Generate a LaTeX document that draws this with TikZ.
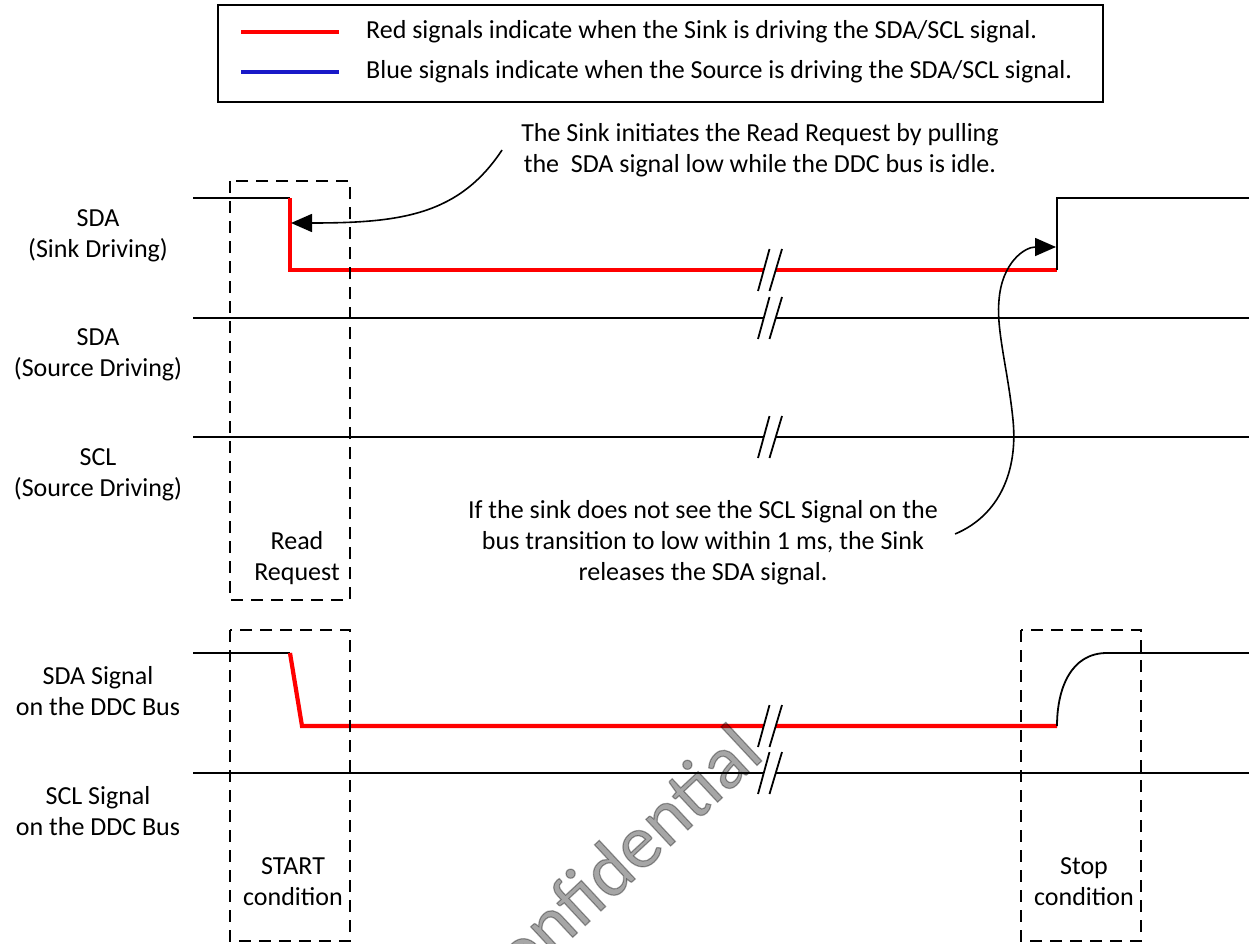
\documentclass[tikz,border=0pt]{standalone}
\usepackage{fontspec}
\setmainfont{Carlito}
\newfontfamily\markfont[FakeBold=1.6]{Carlito}
\usetikzlibrary{arrows.meta}
\definecolor{srcblue}{RGB}{25,25,200}
\tikzset{
  sig/.style={line width=1.8pt},
  sink/.style={line width=4.2pt,red},
  frame/.style={line width=1.6pt,dash pattern=on 12pt off 8pt},
  lbl/.style={align=center,inner sep=0pt,font=\fontsize{26}{31}\selectfont},
  note/.style={line width=1.6pt,-{Triangle[length=21pt,width=18pt]}}
}
\begin{document}
\begin{tikzpicture}[x=1pt,y=-1pt]
  \useasboundingbox (0,0) rectangle (1249,944);
  % legend
  \draw[line width=1.5pt] (218,5) rectangle (1103,102);
  \draw[sink] (241,32) -- (339,32);
  \draw[line width=4.2pt,srcblue] (241,72) -- (339,72);
  \node[lbl,anchor=west] (redkey) at (366,32) {Red signals indicate when the Sink is driving the SDA/SCL signal.};
  \node[lbl,anchor=west] (bluekey) at (366,72) {Blue signals indicate when the Source is driving the SDA/SCL signal.};
  % row names
  \foreach \y/\t [count=\i] in {236/{SDA\\(Sink Driving)}, 355/{SDA\\(Source Driving)},
    475/{SCL\\(Source Driving)}, 691/{SDA Signal\\on the DDC Bus}, 811/{SCL Signal\\on the DDC Bus}}
    \node[lbl] (row\i) at (98,\y) {\t};
  % signals
  \draw[sig] (193,198) -- (290,198);
  \draw[sink] (290,198) -- (290,270) -- (1057,270);
  \draw[sig] (1057,270) -- (1057,198) -- (1249,198);
  \foreach \y in {318,437,773}
    \draw[sig] (193,\y) -- (1249,\y);
  \draw[sig] (193,653) -- (290,653);
  \draw[sink] (290,653) -- (302,726) -- (1057,726);
  \draw[sig] (1057,726) .. controls (1057,690) and (1070,653) .. (1107,653) -- (1249,653);
  % breaks
  \foreach \y in {270,318,437,726,773}{
    \fill[white] (758,\y+21) -- (769.5,\y-21) -- (782,\y-21) -- (769.5,\y+21) -- cycle;
    \draw[sig] (758,\y+21) -- (769.5,\y-21) (769.5,\y+21) -- (782,\y-21);
  }
  % windows
  \draw[frame] (230,181) rectangle (350,600);
  \draw[frame] (230,630) rectangle (350,941);
  \draw[frame] (1021,630) rectangle (1141,941);
  \node[lbl] (readreq) at (297,558) {Read\\Request};
  \node[lbl] (startcond) at (293,882) {START\\condition};
  \node[lbl] (stopcond) at (1084,882) {Stop\\condition};
  % notes
  \node[lbl] (readnote) at (760,150) {The Sink initiates the Read Request by pulling\\the\ \ SDA signal low while the DDC bus is idle.};
  \node[lbl] (stopnote) at (703,543) {If the sink does not see the SCL Signal on the\\bus transition to low within 1 ms, the Sink\\releases the SDA signal.};
  \coordinate (readtip) at (291,223);
  \coordinate (stoptip) at (1056,247);
  \draw[note] ([xshift=-19pt]readnote.west) .. controls +(-43,65) and +(110,0) .. (readtip);
  \draw[note] ([xshift=17pt,yshift=9pt]stopnote.east) .. controls +(45,-19) and (1018,470) .. (1013,420)
    .. controls (1008,370) and (996,330) .. (999,300) .. controls (1002,262) and (1025,247) .. (stoptip);
  % watermark
  \node[rotate=43,anchor=base east,inner sep=0pt,opacity=0.35,font=\fontsize{76}{80}\markfont] (mark) at (766,757) {Confidential};
\end{tikzpicture}
\end{document}
